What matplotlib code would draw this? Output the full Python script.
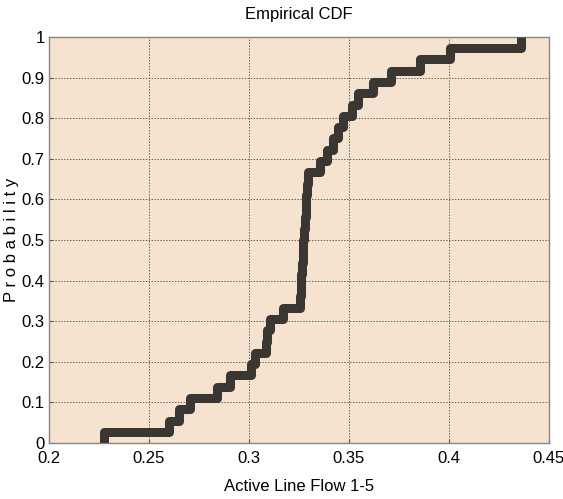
import matplotlib
matplotlib.use("Agg")
import matplotlib.pyplot as plt
import numpy as np
from matplotlib import font_manager

fams = [f.name for f in font_manager.fontManager.ttflist]
fam = "Liberation Sans Narrow" if "Liberation Sans Narrow" in fams else "Liberation Sans"
plt.rcParams['font.family'] = [fam, 'DejaVu Sans']

# Sorted sample values read from the ECDF
samples = [0.2275, 0.2600, 0.2650, 0.2705, 0.2840, 0.2905, 0.3010, 0.3030,
           0.3085, 0.3090, 0.3105, 0.3170, 0.3255, 0.3258, 0.3262, 0.3265,
           0.3270, 0.3272, 0.3275, 0.3280, 0.3283, 0.3287, 0.3290, 0.3295,
           0.3355, 0.3390, 0.3420, 0.3445, 0.3470, 0.3515, 0.3545, 0.3620,
           0.3710, 0.3855, 0.4005, 0.4360]
xticks = [0.2, 0.25, 0.3, 0.35, 0.4, 0.45]
xticklabels = ["0.2", "0.25", "0.3", "0.35", "0.4", "0.45"]
yticks = [0, 0.1, 0.2, 0.3, 0.4, 0.5, 0.6, 0.7, 0.8, 0.9, 1]
yticklabels = ["0", "0.1", "0.2", "0.3", "0.4", "0.5", "0.6", "0.7", "0.8", "0.9", "1"]

n = len(samples)
xs = [samples[0]] + samples
ys = [0.0] + [(i + 1) / n for i in range(n)]

fig = plt.figure(figsize=(5.63, 4.99), dpi=100)
ax = fig.add_axes([0.087, 0.112, 0.888, 0.814])
ax.set_facecolor("#F5E3D0")
ax.step(xs, ys, where="post", color="#3A3632", linewidth=6.5,
        solid_joinstyle="round", solid_capstyle="butt", zorder=3)

ax.set_xlim(0.2, 0.45)
ax.set_ylim(0, 1)
ax.set_xticks(xticks)
ax.set_xticklabels(xticklabels)
ax.set_yticks(yticks)
ax.set_yticklabels(yticklabels)
ax.grid(True, linestyle=(0, (1.5, 1.5)), color="#6a625a", linewidth=0.7)
ax.tick_params(direction="in", length=3, labelsize=12, color="#555555")
ax.tick_params(axis="x", pad=6)
ax.tick_params(axis="y", pad=3)
for s in ax.spines.values():
    s.set_color("#8a8580")
    s.set_linewidth(1.0)

ax.set_title("Empirical CDF", fontsize=12, pad=13)
ax.set_xlabel("Active Line Flow 1-5", fontsize=12, labelpad=9)
ax.set_ylabel("P r o b a b i l i t y", fontsize=12, labelpad=2)

fig.savefig("out.png", dpi=100, facecolor="white")
